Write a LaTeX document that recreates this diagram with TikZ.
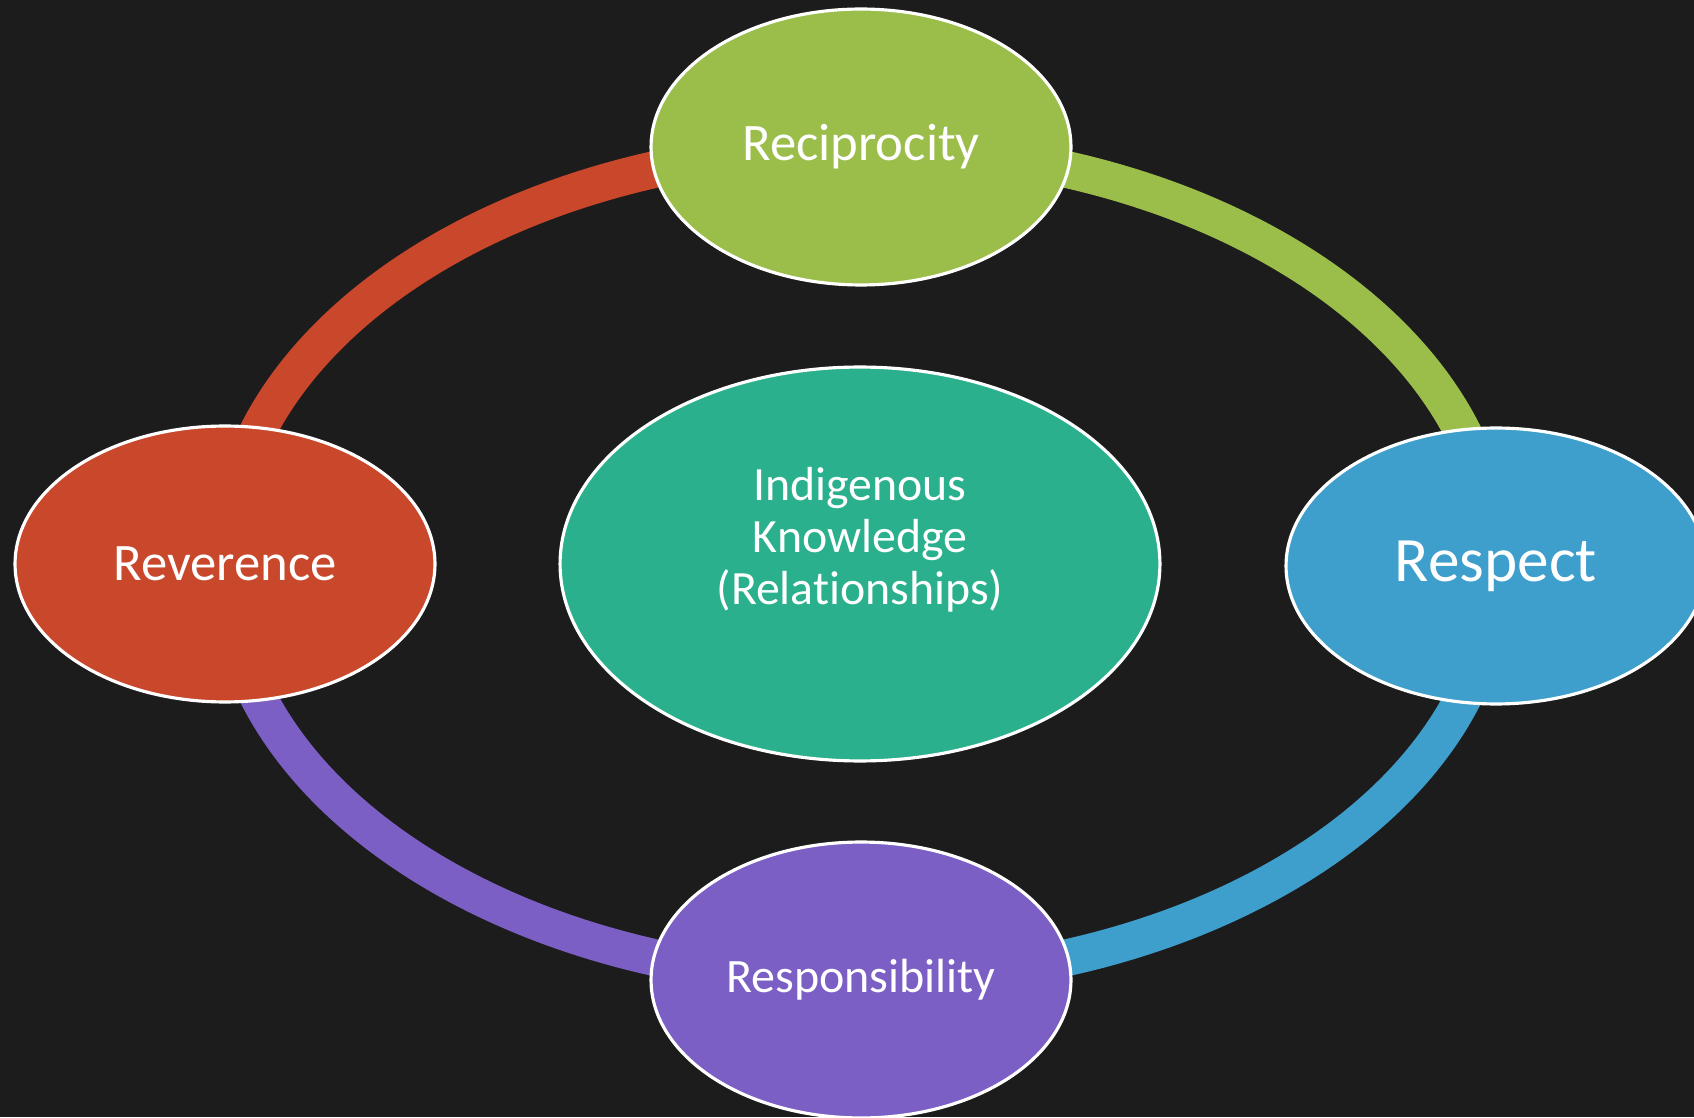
\documentclass[tikz,border=0pt]{standalone}
\usepackage{fontspec}
\setmainfont{Carlito}[Ligatures=NoCommon]
\usetikzlibrary{shapes.geometric}
\definecolor{bgcol}{HTML}{1C1C1C}
\definecolor{cgreen}{HTML}{9BBE4B}
\definecolor{cred}{HTML}{C9472A}
\definecolor{cblue}{HTML}{3E9ECC}
\definecolor{cpurple}{HTML}{7B5FC4}
\definecolor{cteal}{HTML}{2AB08C}
\pgfdeclarelayer{back}
\pgfsetlayers{back,main}
\tikzset{
  petal/.style={ellipse, draw=white, line width=1.8pt, inner sep=0pt,
    minimum width=8.4cm, minimum height=5.52cm, text=white,
    font=\fontsize{30}{34}\selectfont},
  hub/.style={ellipse, draw=white, line width=1.8pt, inner sep=0pt,
    minimum width=12cm, minimum height=7.88cm},
  ringarc/.style={line width=21pt}
}
\begin{document}
\begin{tikzpicture}[x=0.02cm,y=0.02cm]
\useasboundingbox (0,0) rectangle (1694,1117);
\clip (0,0) rectangle (1694,1117);
\begin{pgfonlayer}{back}
\fill[bgcol] (0,0) rectangle (1694,1117);
\end{pgfonlayer}
\node[petal, fill=cgreen] (recip) at (861,970) {Reciprocity};
\node[petal, fill=cred] (rever) at (225,553) {Reverence};
\node[petal, fill=cblue, font=\fontsize{36}{40}\selectfont] (respe) at (1496,551) {Respect};
\node[petal, fill=cpurple, font=\fontsize{27.3}{31}\selectfont] (respo) at (861,137) {Responsibility};
\node[hub, fill=cteal,
  label={[text=white, align=center, yshift=0.48cm,
    font=\fontsize{27.2}{29.5}\selectfont]center:Indigenous\\Knowledge\\(Relationships)}] (ik) at (860,553) {};
\begin{pgfonlayer}{back}
\draw[ringarc, cred] (rever.center) arc[start angle=180, end angle=90, x radius=12.72cm, y radius=8.34cm];
\draw[ringarc, cgreen] (recip.center) arc[start angle=90, end angle=0, x radius=12.7cm, y radius=8.38cm];
\draw[ringarc, cblue] (respe.center) arc[start angle=360, end angle=270, x radius=12.7cm, y radius=8.28cm];
\draw[ringarc, cpurple] (respo.center) arc[start angle=270, end angle=180, x radius=12.72cm, y radius=8.32cm];
\end{pgfonlayer}
\end{tikzpicture}
\end{document}
